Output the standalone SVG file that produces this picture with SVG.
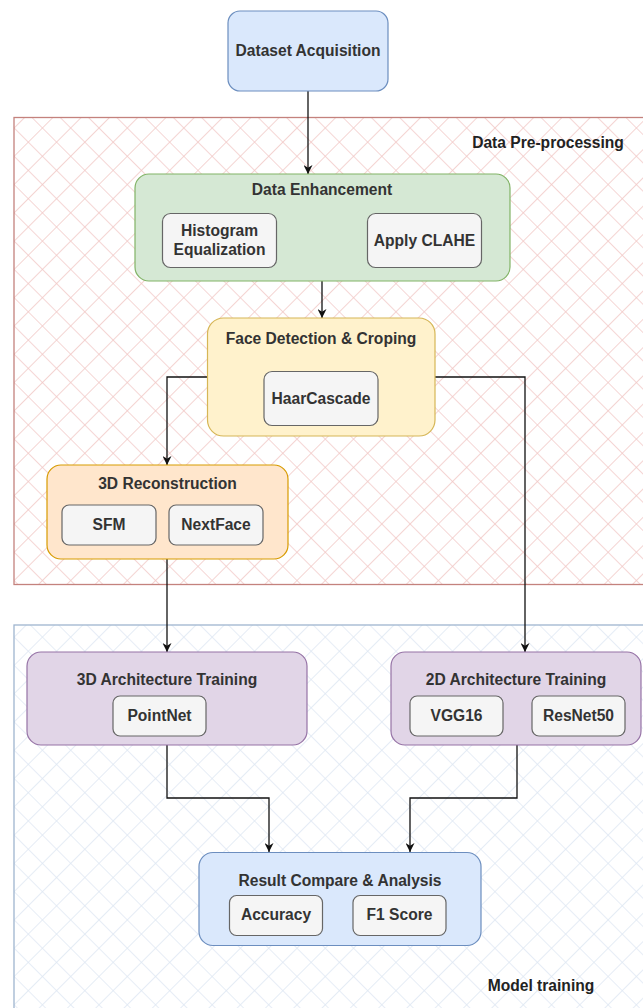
<svg xmlns="http://www.w3.org/2000/svg" width="643" height="1008" viewBox="0 0 643 1008">
<defs>
<pattern id="hatchRed" patternUnits="userSpaceOnUse" width="20" height="20" patternTransform="rotate(45)">
<path d="M0,0 H20 M0,0 V20" stroke="#f2c9c7" stroke-width="1.6" fill="none"/>
</pattern>
<pattern id="hatchBlue" patternUnits="userSpaceOnUse" width="20" height="20" patternTransform="rotate(45)">
<path d="M0,0 H20 M0,0 V20" stroke="#dfe8f3" stroke-width="1.6" fill="none"/>
</pattern>
<marker id="arr" viewBox="0 0 10 10" refX="10" refY="5" markerWidth="9" markerHeight="9" markerUnits="userSpaceOnUse" orient="auto">
<path d="M0,0 L10,5 L0,10 L3,5 z" fill="#111"/>
</marker>
</defs>
<style>
text{font-family:"Liberation Sans",Arial,sans-serif;font-weight:bold;font-size:15.6px;fill:#333;text-anchor:middle}
.lbl{fill:#222}
.inner{fill:#f5f5f5;stroke:#666;stroke-width:1.2}
.conn{fill:none;stroke:#111;stroke-width:1.3;marker-end:url(#arr)}
</style>
<rect width="643" height="1008" fill="#fff"/>

<g id="container-preprocessing">
<rect x="14" y="117.5" width="660" height="467" fill="url(#hatchRed)" stroke="#c4827d" stroke-width="1.3"/>
<text x="548" y="148" class="lbl">Data Pre-processing</text>
</g>
<g id="container-training">
<rect x="14" y="625" width="660" height="400" fill="url(#hatchBlue)" stroke="#9fb5cf" stroke-width="1.3"/>
<text x="541" y="991" class="lbl">Model training</text>
</g>

<g id="connectors">
<path class="conn" d="M308,91 V174"/>
<path class="conn" d="M322,281 V318"/>
<path class="conn" d="M208,377 H167 V465"/>
<path class="conn" d="M435,377 H525 V652"/>
<path class="conn" d="M167,559 V652"/>
<path class="conn" d="M167,745 V798 H269 V852"/>
<path class="conn" d="M517,745 V798 H410 V852"/>
</g>

<g id="dataset-acquisition">
<rect x="228" y="11" width="160" height="80" rx="12" fill="#dae8fc" stroke="#6c8ebf" stroke-width="1.2"/>
<text x="308" y="56">Dataset Acquisition</text>
</g>

<g id="data-enhancement">
<rect x="135" y="174" width="375" height="107" rx="14" fill="#d5e8d4" stroke="#82b366" stroke-width="1.2"/>
<text x="322" y="195">Data Enhancement</text>
<rect class="inner" x="162.5" y="213.5" width="114" height="54" rx="8"/>
<text x="219.5" y="236">Histogram</text>
<text x="219.5" y="255">Equalization</text>
<rect class="inner" x="367.5" y="213.5" width="114" height="54" rx="8"/>
<text x="424.5" y="246">Apply CLAHE</text>
</g>

<g id="face-detection">
<rect x="207.5" y="318" width="227.5" height="118" rx="16" fill="#fff2cc" stroke="#d6b656" stroke-width="1.2"/>
<text x="321" y="344">Face Detection &amp; Croping</text>
<rect class="inner" x="264" y="371.5" width="114" height="54" rx="8"/>
<text x="321" y="403.5">HaarCascade</text>
</g>

<g id="reconstruction-3d">
<rect x="47" y="465" width="241" height="94" rx="14" fill="#ffe6cc" stroke="#d79b00" stroke-width="1.2"/>
<text x="167.5" y="488.5">3D Reconstruction</text>
<rect class="inner" x="62" y="505" width="94" height="40" rx="7"/>
<text x="109" y="530">SFM</text>
<rect class="inner" x="169" y="505" width="94" height="40" rx="7"/>
<text x="216" y="530">NextFace</text>
</g>

<g id="arch-3d">
<rect x="27" y="652" width="280" height="93" rx="14" fill="#e1d5e7" stroke="#9673a6" stroke-width="1.2"/>
<text x="167" y="685">3D Architecture Training</text>
<rect class="inner" x="113" y="696" width="93" height="40" rx="7"/>
<text x="159.5" y="721">PointNet</text>
</g>

<g id="arch-2d">
<rect x="391" y="652" width="250" height="93" rx="14" fill="#e1d5e7" stroke="#9673a6" stroke-width="1.2"/>
<text x="516" y="685">2D Architecture Training</text>
<rect class="inner" x="410" y="696" width="93" height="40" rx="7"/>
<text x="456.5" y="721">VGG16</text>
<rect class="inner" x="532" y="696" width="93" height="40" rx="7"/>
<text x="578.5" y="721">ResNet50</text>
</g>

<g id="result-analysis">
<rect x="199" y="852.5" width="282" height="93" rx="14" fill="#dae8fc" stroke="#6c8ebf" stroke-width="1.2"/>
<text x="340" y="886">Result Compare &amp; Analysis</text>
<rect class="inner" x="229.5" y="895.5" width="93" height="40" rx="7"/>
<text x="276" y="920">Accuracy</text>
<rect class="inner" x="353" y="895.5" width="93" height="40" rx="7"/>
<text x="399.5" y="920">F1 Score</text>
</g>
</svg>
